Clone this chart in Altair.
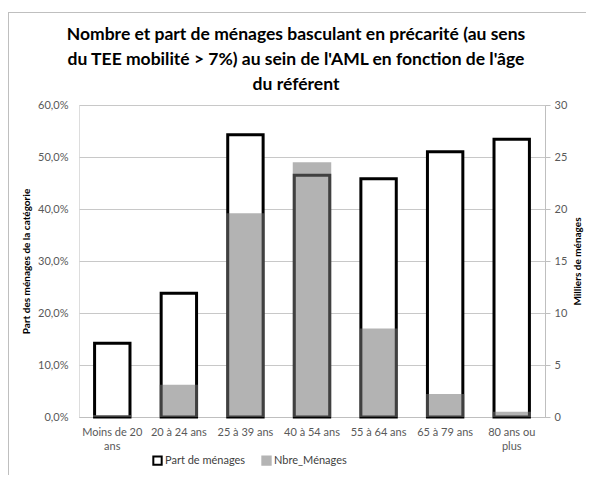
import altair as alt
import pandas as pd

categories = ["Moins de 20 ans", "20 à 24 ans", "25 à 39 ans", "40 à 54 ans",
              "55 à 64 ans", "65 à 79 ans", "80 ans ou plus"]
part_menages = [0.142, 0.238, 0.543, 0.465, 0.458, 0.510, 0.534]
nbre_menages = [0.2, 3.1, 19.6, 24.5, 8.5, 2.2, 0.5]
series = ["Part de ménages", "Nbre_Ménages"]
left_ticks = [0, 0.1, 0.2, 0.3, 0.4, 0.5, 0.6]
right_ticks = [0, 5, 10, 15, 20, 25, 30]
title_lines = ["Nombre et part de ménages basculant en précarité (au sens",
               "du TEE mobilité > 7%) au sein de l'AML en fonction de l'âge",
               "du référent"]

df = pd.DataFrame({"categorie": categories, "part": part_menages, "nbre": nbre_menages})

FONT = "Lato"
label_expr = ("datum.value == 'Moins de 20 ans' ? ['Moins de 20', 'ans'] : "
              "datum.value == '80 ans ou plus' ? ['80 ans ou', 'plus'] : datum.value")

x_enc = alt.X("categorie:N", sort=categories, title=None,
              scale=alt.Scale(paddingInner=0.422, paddingOuter=0.211),
              axis=alt.Axis(labelAngle=0, labelExpr=label_expr, ticks=False,
                            domainColor="#bfbfbf", labelPadding=9, labelLineHeight=14,
                            labelColor="#595959", labelFontSize=11, labelFont=FONT))

legend = alt.Legend(orient="none", legendX=73, legendY=350, direction="horizontal",
                    title=None, symbolType="square", symbolSize=70, labelFontSize=11,
                    labelFont=FONT, labelColor="#404040", columnPadding=12,
                    symbolStrokeWidth=2, labelOffset=2)

color_scale = alt.Scale(domain=series, range=["white", "#b4b4b4"])
stroke_scale = alt.Scale(domain=series, range=["black", "#b4b4b4"])

base = alt.Chart(df)

bars_part = base.transform_calculate(serie="'Part de ménages'").mark_bar(
    strokeWidth=3, width=alt.RelativeBandSize(0.92)
).encode(
    x=x_enc,
    y=alt.Y("part:Q", scale=alt.Scale(domain=[0, 0.6], nice=False),
            axis=alt.Axis(values=left_ticks, orient="left",
                          labelExpr="replace(format(datum.value, '.1%'), '.', ',')",
                          ticks=False, domain=False, gridColor="#c8c8c8",
                          labelColor="#595959", labelFontSize=11, labelFont=FONT,
                          labelPadding=11, title="Part des ménages de la catégorie",
                          titleFontSize=10, titleFont=FONT, titleFontWeight="bold",
                          titleColor="black", titlePadding=6)),
    color=alt.Color("serie:N", scale=color_scale, legend=legend),
    stroke=alt.Stroke("serie:N", scale=stroke_scale, legend=legend),
)

bars_nbre = base.mark_bar(
    strokeWidth=0, fill="#757575", fillOpacity=0.55
).encode(
    x=x_enc,
    y=alt.Y("nbre:Q", scale=alt.Scale(domain=[0, 30], nice=False),
            axis=alt.Axis(values=right_ticks, orient="right", grid=False,
                          domain=True, domainColor="#bfbfbf", tickColor="#bfbfbf",
                          tickSize=5, labelPadding=4, labelColor="#595959",
                          labelFontSize=11, labelFont=FONT,
                          title="Milliers de ménages", titleAngle=270,
                          titleFontSize=10, titleFont=FONT, titleFontWeight="bold",
                          titleColor="black", titlePadding=16)),
)

frame_top = alt.Chart(df).mark_rule(color="#bfbfbf", strokeWidth=1).encode(
    x=alt.value(-70.5), x2=alt.value(520), y=alt.value(-92.5))
frame_left = alt.Chart(df).mark_rule(color="#bfbfbf", strokeWidth=1).encode(
    x=alt.value(-70.5), y=alt.value(-92.5), y2=alt.value(380))

chart = alt.layer(bars_part, bars_nbre, frame_top, frame_left).resolve_scale(
    y="independent"
).properties(
    width=466, height=312,
    padding={"left": 71, "top": 97, "right": 41, "bottom": 58},
    autosize=alt.AutoSizeParams(type="none"),
    title=alt.Title(text=title_lines, fontSize=17.5, font=FONT, fontWeight="bold",
                    anchor="middle", frame="group", dx=-16, offset=0, dy=81,
                    lineHeight=25, color="black"),
).configure_view(stroke=None).configure(background="white")

chart.save("out.html", embed_options={"renderer": "svg", "actions": False})
